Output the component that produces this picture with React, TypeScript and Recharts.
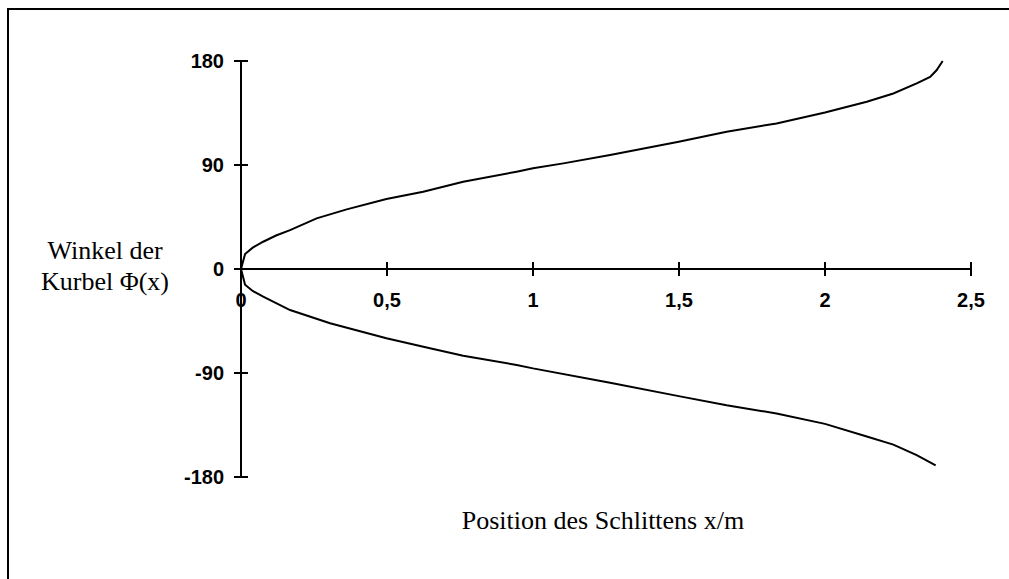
import { Line, LineChart, ReferenceLine, XAxis, YAxis } from 'recharts';

// slider position x/m and crank angle, upper branch (0..180°)
const posUpper = [0, 0.014, 0.04, 0.076, 0.12, 0.168, 0.259, 0.362, 0.498, 0.624, 0.761, 0.944, 1.0, 1.104, 1.264, 1.499, 1.663, 1.834, 2.0, 2.143, 2.234, 2.314, 2.36, 2.382, 2.403];
const phiUpper = [0, 13, 18.5, 23.6, 29, 33.7, 43.8, 51.6, 60.5, 66.9, 75.5, 84.2, 87.1, 91.4, 98.6, 110.1, 118.8, 126, 135.5, 144.7, 151.9, 160.6, 166.3, 172, 180];

// lower branch (0..-180°)
const posLower = [0, 0.014, 0.04, 0.076, 0.168, 0.305, 0.498, 0.647, 0.761, 0.944, 1.0, 1.264, 1.499, 1.663, 1.834, 2.0, 2.143, 2.234, 2.314, 2.379];
const phiLower = [0, -13.6, -19, -24, -35.5, -47, -60, -68.6, -75, -83, -86, -98.5, -110, -118, -125, -134, -145, -152, -161, -170];

const xTicks = [0, 0.5, 1, 1.5, 2, 2.5];
const yTicks = [-180, -90, 0, 90, 180];

const upper = posUpper.map((x, i) => ({ x, phi: phiUpper[i] }));
const lower = posLower.map((x, i) => ({ x, phi: phiLower[i] }));

const W = 1009;
const H = 579;
const margin = { top: 61, right: 38, left: 181, bottom: 42 };
const Y_AXIS_W = 60;
const X_AXIS_H = 60;
const PLOT_H = H - margin.top - margin.bottom - X_AXIS_H;
const AXIS_X = margin.left + Y_AXIS_W;
const ZERO_Y = margin.top + PLOT_H / 2;

const tickFont = { fontFamily: '"Liberation Sans", Arial, sans-serif', fontWeight: 700, fontSize: 20 };
const titleFont = { fontFamily: '"Liberation Serif", "Times New Roman", serif', fontSize: 26 };

const fmt = (v: number) => String(v).replace('.', ',');

// x ticks sit on the horizontal axis through phi = 0, not at the bottom
function XTick({ x, payload }: any) {
  return (
    <g>
      <line x1={x} x2={x} y1={ZERO_Y - 7} y2={ZERO_Y + 7} stroke="#000" strokeWidth={2} />
      <text x={x} y={ZERO_Y + 38} textAnchor="middle" fill="#000" {...tickFont}>
        {fmt(payload.value)}
      </text>
    </g>
  );
}

function YTick({ y, payload }: any) {
  return (
    <g>
      <line x1={AXIS_X - 7} x2={AXIS_X + 7} y1={y} y2={y} stroke="#000" strokeWidth={2} />
      <text x={AXIS_X - 17} y={y + 7} textAnchor="end" fill="#000" {...tickFont}>
        {payload.value}
      </text>
    </g>
  );
}

function YTitle() {
  const cx = 105;
  return (
    <text x={cx} y={ZERO_Y - 10} textAnchor="middle" fill="#000" {...titleFont}>
      <tspan x={cx}>Winkel der</tspan>
      <tspan x={cx} dy={31}>Kurbel Φ(x)</tspan>
    </text>
  );
}

function XTitle() {
  return (
    <text x={603} y={529} textAnchor="middle" fill="#000" {...titleFont}>
      Position des Schlittens x/m
    </text>
  );
}

export default function App() {
  return (
    <div style={{ position: 'fixed', left: 0, top: 0, width: W, height: H, background: '#fff', overflow: 'hidden' }}>
      <div
        style={{
          position: 'absolute',
          left: 7,
          top: 8,
          right: 0,
          bottom: -10,
          borderTop: '2px solid #000',
          borderLeft: '2px solid #000',
        }}
      />
      <div style={{ position: 'absolute', left: 0, top: 0 }}>
        <LineChart width={W} height={H} margin={margin}>
          <XAxis
            type="number"
            dataKey="x"
            domain={[0, 2.5]}
            ticks={xTicks}
            interval={0}
            height={X_AXIS_H}
            axisLine={false}
            tickLine={false}
            tickSize={0}
            tick={<XTick />}
            label={<XTitle />}
          />
          <YAxis
            type="number"
            domain={[-180, 180]}
            ticks={yTicks}
            interval={0}
            width={Y_AXIS_W}
            axisLine={{ stroke: '#000', strokeWidth: 2 }}
            tickLine={false}
            tickSize={0}
            tick={<YTick />}
            label={<YTitle />}
          />
          <ReferenceLine y={0} stroke="#000" strokeWidth={2} ifOverflow="visible" />
          <Line
            data={upper}
            dataKey="phi"
            type="linear"
            stroke="#000"
            strokeWidth={2}
            dot={false}
            isAnimationActive={false}
          />
          <Line
            data={lower}
            dataKey="phi"
            type="linear"
            stroke="#000"
            strokeWidth={2}
            dot={false}
            isAnimationActive={false}
          />
        </LineChart>
      </div>
    </div>
  );
}
